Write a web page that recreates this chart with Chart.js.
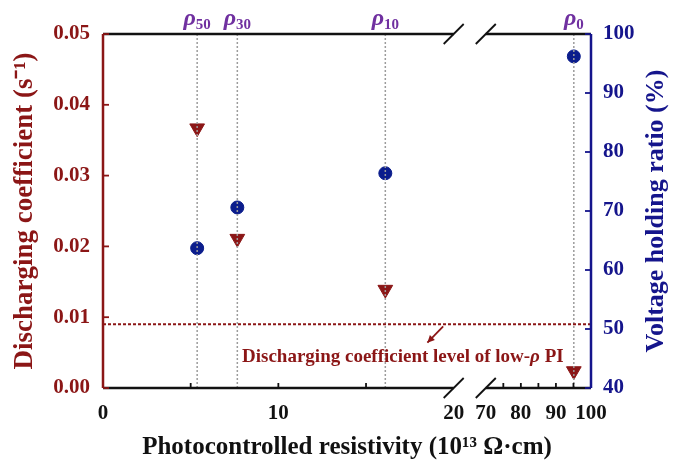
<!DOCTYPE html>
<html>
<head>
<meta charset="utf-8">
<script src="https://cdn.jsdelivr.net/npm/chart.js@4.4.0/dist/chart.umd.min.js"></script>
<style>
  html, body { margin: 0; padding: 0; background: #fff; }
</style>
</head>
<body>
<canvas id="chart" width="679" height="466"></canvas>
<script>
// Values
const resistivity = [5.37, 7.66, 16.1, 95.1];        // 10^13 ohm.cm
const rhoSubscripts = ['50', '30', '10', '0'];
const dischargeCoeff = [0.0367, 0.0211, 0.0139, 0.0024]; // s^-1
const holdingRatio = [63.7, 70.6, 76.4, 96.2];          // %
const lowRhoLevel = 0.009;

const xTicks = [0, 5, 10, 15, 20, 70, 75, 80, 85, 90, 95, 100];
const xTickLabels = [0, 10, 20, 70, 80, 90, 100];
const yLeftTicks = [0, 0.01, 0.02, 0.03, 0.04, 0.05];
const yRightTicks = [40, 50, 60, 70, 80, 90, 100];

const RED = '#8b1616';
const NAVY = '#15158c';
const PURPLE = '#7030a0';
const SERIF = "'Liberation Serif', 'Times New Roman', serif";

// broken x axis: 0-20 full scale, gap, 70-100 compressed
const BREAK_LO = 20, BREAK_HI = 70, GAP = 1.83, HI_SCALE = 0.2;
function toU(v) {
    if (v <= BREAK_LO) return v;
    if (v >= BREAK_HI) return BREAK_LO + GAP + (v - BREAK_HI) * HI_SCALE;
    return BREAK_LO + GAP * (v - BREAK_LO) / (BREAK_HI - BREAK_LO);
}

class BrokenScale extends Chart.LinearScale {
    getPixelForValue(v) {
        const u0 = toU(this.min), u1 = toU(this.max);
        return this.getPixelForDecimal((toU(v) - u0) / (u1 - u0));
    }
    buildTicks() {
        return xTicks.map(v => ({ value: v }));
    }
}
BrokenScale.id = 'broken';
BrokenScale.defaults = Chart.LinearScale.defaults;
Chart.register(BrokenScale);

function line(ctx, x1, y1, x2, y2) {
    ctx.beginPath();
    ctx.moveTo(x1, y1);
    ctx.lineTo(x2, y2);
    ctx.stroke();
}

const decor = {
    id: 'decor',
    afterDatasetsDraw(chart) {
        const { ctx, chartArea: a, scales: { x, y, y1 } } = chart;
        ctx.save();

        // dotted guides at each resistivity
        ctx.strokeStyle = '#9c9c9c';
        ctx.lineWidth = 1.5;
        ctx.setLineDash([2, 2]);
        resistivity.forEach(r => {
            const px = x.getPixelForValue(r);
            line(ctx, px, a.top, px, a.bottom);
        });

        // low-rho PI level
        ctx.strokeStyle = RED;
        ctx.lineWidth = 2;
        ctx.setLineDash([3, 2]);
        const ly = y.getPixelForValue(lowRhoLevel);
        line(ctx, a.left, ly, a.right, ly);
        ctx.setLineDash([]);

        // top and bottom frame with break marks
        const b1 = x.getPixelForValue(BREAK_LO);
        const b2 = x.getPixelForValue(BREAK_HI);
        ctx.strokeStyle = '#111';
        [a.top, a.bottom].forEach(yy => {
            ctx.lineWidth = 2.5;
            line(ctx, a.left, yy, b1, yy);
            line(ctx, b2, yy, a.right, yy);
            ctx.lineWidth = 1.8;
            [b1, b2].forEach(bx => line(ctx, bx - 10, yy + 10, bx + 10, yy - 10));
        });

        // inward x ticks
        ctx.lineWidth = 1.8;
        xTicks.forEach(v => {
            if (v === 0 || v === 100 || v === BREAK_LO || v === BREAK_HI) return;
            const px = x.getPixelForValue(v);
            line(ctx, px, a.bottom, px, a.bottom - 5);
        });

        // left axis
        ctx.strokeStyle = RED;
        ctx.lineWidth = 2.5;
        line(ctx, a.left, a.top, a.left, a.bottom);
        ctx.lineWidth = 1.8;
        yLeftTicks.forEach(v => {
            const py = y.getPixelForValue(v);
            line(ctx, a.left, py, a.left + 6, py);
        });

        // right axis
        ctx.strokeStyle = NAVY;
        ctx.lineWidth = 2.5;
        line(ctx, a.right, a.top, a.right, a.bottom);
        ctx.lineWidth = 1.8;
        yRightTicks.forEach(v => {
            const py = y1.getPixelForValue(v);
            line(ctx, a.right, py, a.right - 6, py);
        });

        ctx.restore();
    },
    afterDraw(chart) {
        const { ctx, chartArea: a, scales: { x, y } } = chart;
        ctx.save();

        // rho labels above the guides
        ctx.fillStyle = PURPLE;
        ctx.textBaseline = 'alphabetic';
        resistivity.forEach((r, i) => {
            const px = x.getPixelForValue(r);
            ctx.font = 'italic bold 24px ' + SERIF;
            const wr = ctx.measureText('\u03c1').width;
            ctx.font = 'bold 15px ' + SERIF;
            const ws = ctx.measureText(rhoSubscripts[i]).width;
            const x0 = px - (wr + ws) / 2;
            ctx.font = 'italic bold 24px ' + SERIF;
            ctx.textAlign = 'left';
            ctx.fillText('\u03c1', x0, a.top - 9);
            ctx.font = 'bold 15px ' + SERIF;
            ctx.fillText(rhoSubscripts[i], x0 + wr, a.top - 5);
        });

        // right axis title, reading bottom to top
        ctx.save();
        ctx.translate(656, (a.top + a.bottom) / 2);
        ctx.rotate(-Math.PI / 2);
        ctx.fillStyle = NAVY;
        ctx.font = 'bold 26px ' + SERIF;
        ctx.textAlign = 'center';
        ctx.textBaseline = 'middle';
        ctx.fillText('Voltage holding ratio (%)', 0, 0);
        ctx.restore();

        // annotation for the level line (italic rho)
        const parts = [
            ['Discharging coefficient level of low-', 'bold 19px '],
            ['\u03c1', 'italic bold 19px '],
            [' PI', 'bold 19px ']
        ];
        ctx.fillStyle = RED;
        ctx.textAlign = 'left';
        ctx.textBaseline = 'middle';
        let total = 0;
        parts.forEach(([t, f]) => { ctx.font = f + SERIF; total += ctx.measureText(t).width; });
        let tx = x.getPixelForValue(17.1) - total / 2;
        const ty = y.getPixelForValue(0.0044);
        parts.forEach(([t, f]) => {
            ctx.font = f + SERIF;
            ctx.fillText(t, tx, ty);
            tx += ctx.measureText(t).width;
        });

        // arrow
        const ax1 = x.getPixelForValue(19.4), ay1 = y.getPixelForValue(lowRhoLevel) + 2;
        const ax2 = x.getPixelForValue(18.5), ay2 = y.getPixelForValue(0.0064);
        ctx.strokeStyle = RED;
        ctx.lineWidth = 1.8;
        line(ctx, ax1, ay1, ax2, ay2);
        const ang = Math.atan2(ay2 - ay1, ax2 - ax1);
        ctx.beginPath();
        ctx.moveTo(ax2, ay2);
        ctx.lineTo(ax2 - 8 * Math.cos(ang - 0.45), ay2 - 8 * Math.sin(ang - 0.45));
        ctx.lineTo(ax2 - 8 * Math.cos(ang + 0.45), ay2 - 8 * Math.sin(ang + 0.45));
        ctx.closePath();
        ctx.fill();

        ctx.restore();
    }
};

const ctx = document.getElementById('chart').getContext('2d');
new Chart(ctx, {
    type: 'scatter',
    data: {
        datasets: [
            {
                label: 'Discharging coefficient',
                data: resistivity.map((r, i) => ({ x: r, y: dischargeCoeff[i] })),
                yAxisID: 'y',
                pointStyle: 'triangle',
                rotation: 180,
                pointRadius: 8.5,
                backgroundColor: RED,
                borderColor: RED,
                borderWidth: 1
            },
            {
                label: 'Voltage holding ratio',
                data: resistivity.map((r, i) => ({ x: r, y: holdingRatio[i] })),
                yAxisID: 'y1',
                pointStyle: 'circle',
                pointRadius: 6.5,
                backgroundColor: '#0b1d8c',
                borderColor: '#0b1d8c',
                borderWidth: 1
            }
        ]
    },
    options: {
        responsive: false,
        animation: false,
        devicePixelRatio: 1,
        layout: { padding: { top: 34, left: 0, right: 0, bottom: 0 } },
        plugins: {
            legend: { display: false },
            tooltip: { enabled: false }
        },
        scales: {
            x: {
                type: 'broken',
                min: 0,
                max: 100,
                afterFit: s => { s.height = 78; },
                grid: { display: false, drawTicks: false },
                border: { display: false },
                ticks: {
                    autoSkip: false,
                    maxRotation: 0,
                    padding: 13,
                    color: '#111',
                    font: { family: SERIF, size: 21, weight: 'bold' },
                    callback: v => xTickLabels.includes(v) ? String(v) : ''
                },
                title: {
                    display: true,
                    text: 'Photocontrolled resistivity (10\u00b9\u00b3 \u03a9\u00b7cm)',
                    color: '#111',
                    font: { family: SERIF, size: 25, weight: 'bold' },
                    padding: { top: 0, bottom: 3 }
                }
            },
            y: {
                position: 'left',
                min: 0,
                max: 0.05,
                afterFit: s => { s.width = 103; },
                afterBuildTicks: s => { s.ticks = yLeftTicks.map(v => ({ value: v })); },
                grid: { display: false, drawTicks: false },
                border: { display: false },
                ticks: {
                    padding: 13,
                    color: RED,
                    font: { family: SERIF, size: 21, weight: 'bold' },
                    callback: v => v.toFixed(2)
                },
                title: {
                    display: true,
                    text: 'Discharging coefficient (s\u207b\u00b9)',
                    color: RED,
                    font: { family: SERIF, size: 27, weight: 'bold' },
                    padding: { top: 9, bottom: 0 }
                }
            },
            y1: {
                position: 'right',
                min: 40,
                max: 100,
                afterFit: s => { s.width = 88; },
                afterBuildTicks: s => { s.ticks = yRightTicks.map(v => ({ value: v })); },
                grid: { display: false, drawTicks: false },
                border: { display: false },
                ticks: {
                    padding: 12,
                    color: NAVY,
                    font: { family: SERIF, size: 21, weight: 'bold' },
                    callback: v => String(v)
                },
                title: { display: false }
            }
        }
    },
    plugins: [decor]
});
</script>
</body>
</html>
